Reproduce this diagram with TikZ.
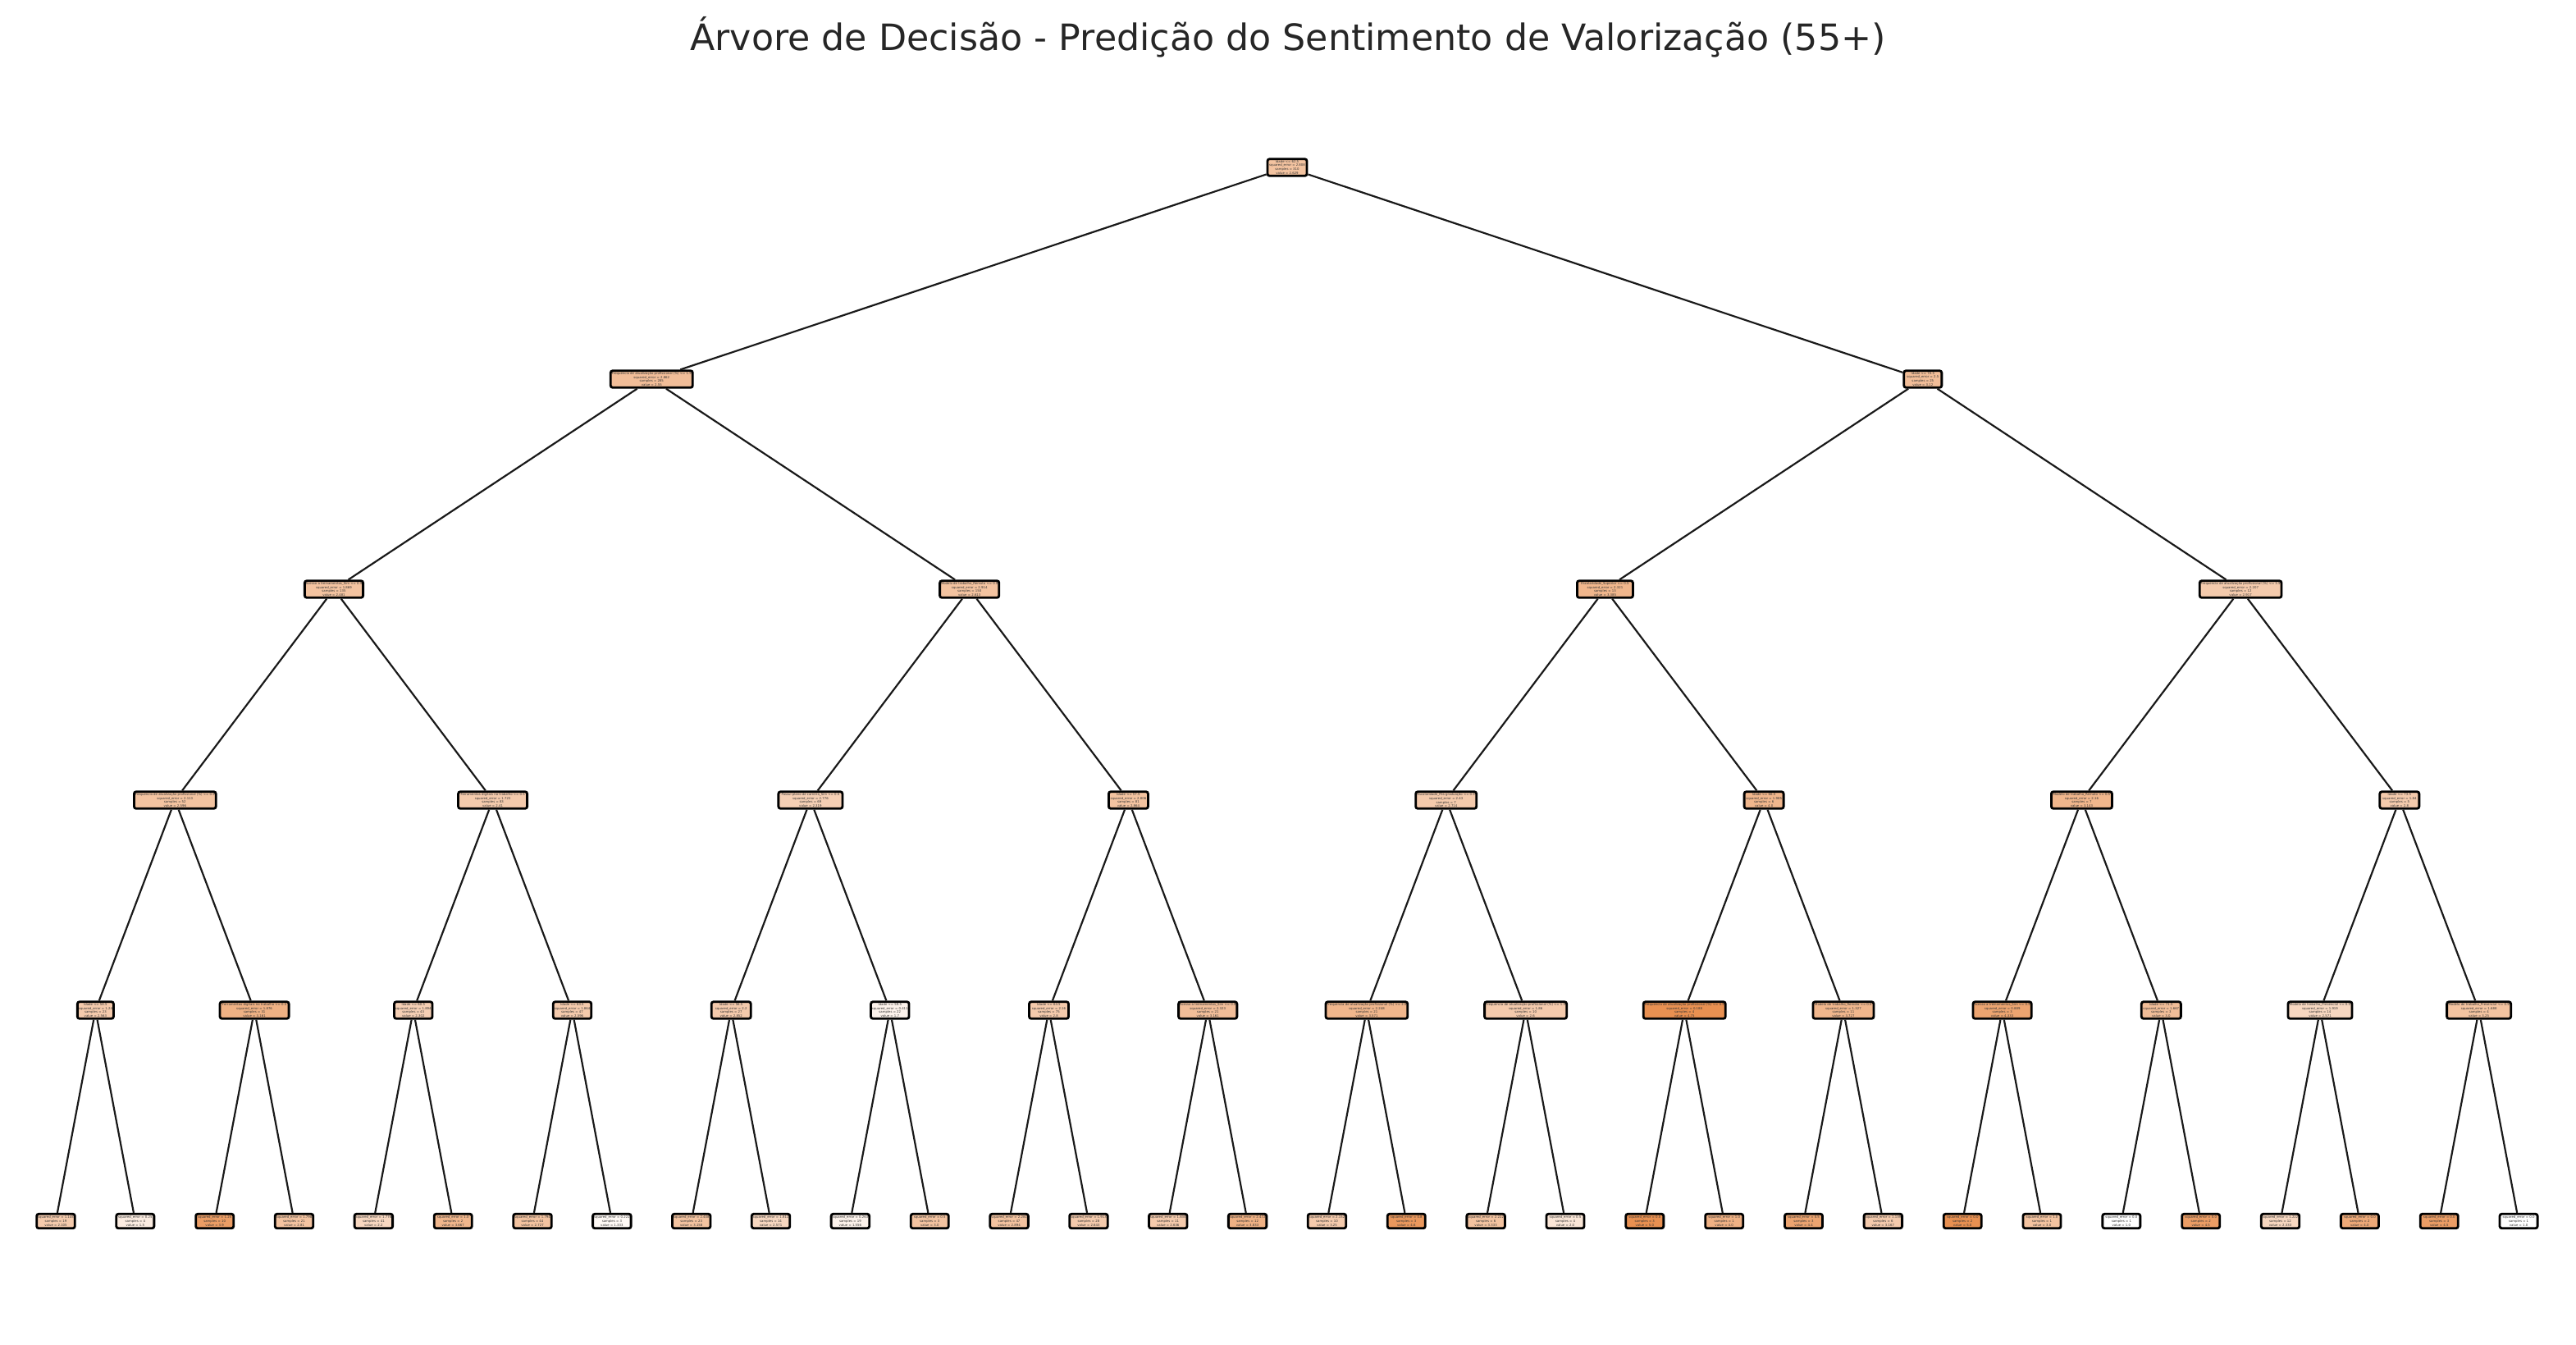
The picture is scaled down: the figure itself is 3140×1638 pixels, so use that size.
\documentclass[tikz,border=0pt]{standalone}
\usepackage{fontspec}
\setmainfont{DejaVu Sans}
\definecolor{tor}{HTML}{E58139}
\definecolor{ttl}{HTML}{262626}
\newcommand\itx[4]{#1\\squared\_error = #2\\samples = #3\\value = #4}
\newcommand\ltx[3]{squared\_error = #1\\samples = #2\\value = #3}
\tikzset{
  tn/.style={draw=black, line width=0.8pt, rounded corners=0.025cm, inner xsep=0.4pt, inner ysep=0.3pt,
    align=center, text=black!80, font=\fontsize{1.1}{1.4}\selectfont, minimum height=0.205cm},
  lf/.style={tn, minimum height=0.175cm},
  edge/.style={draw=black!90, line width=0.62pt}
}
\begin{document}
\begin{tikzpicture}[x=0.01cm, y=-0.01cm]
\useasboundingbox (0,0) rectangle (3140,1638);
\node[font=\fontsize{12.6}{15}\selectfont, text=ttl] (title) at (1570,45) {Árvore de Decisão - Predição do Sentimento de Valorização (55+)};
% level 0
\node[tn, minimum width=0.48cm, fill=tor!48!white] (n0-1) at (1569,204) {\itx{Idade <= 62.5}{2.808}{310}{2.629}};
% level 1
\foreach \x/\w/\p/\t [count=\k] in {
  794.3/1.00/52/{\itx{Frequencia de atualização profissional (\%) <= 1.5}{2.862}{285}{2.55}},
  2343.8/0.46/52/{\itx{Idade <= 70.5}{2.5}{25}{3.12}}}
  {\node[tn, minimum width=\w cm, fill=tor!\p!white] (n1-\k) at (\x,462) {\t};}
% level 2
\foreach \x/\w/\p/\t [count=\k] in {
  407.0/0.70/48/{\itx{Acesso a treinamentos\_Sim <= 0.5}{1.869}{135}{2.481}},
  1181.7/0.68/48/{\itx{Modelo de trabalho\_Remoto <= 0.5}{2.914}{150}{2.613}},
  1956.4/0.68/58/{\itx{Escolaridade\_Superior <= 0.5}{2.321}{13}{3.385}},
  2731.1/0.98/42/{\itx{Frequencia de atualização profissional (\%) <= 3.5}{2.207}{12}{2.917}}}
  {\node[tn, minimum width=\w cm, fill=tor!\p!white] (n2-\k) at (\x,718) {\t};}
% level 3
\foreach \x/\w/\p/\t [count=\k] in {
  213.3/0.98/48/{\itx{Frequencia de atualização profissional (\%) <= 0.5}{2.113}{52}{2.596}},
  600.6/0.84/42/{\itx{Ferramentas digitais no trabalho <= 0.5}{1.723}{83}{2.41}},
  987.9/0.78/38/{\itx{Possui plano de carreira\_Sim <= 0.5}{2.776}{69}{2.319}},
  1375.4/0.48/48/{\itx{Idade <= 57.5}{2.806}{81}{2.864}},
  1762.7/0.74/42/{\itx{Escolaridade\_Pós-graduação <= 0.5}{2.43}{7}{2.714}},
  2150.1/0.48/58/{\itx{Idade <= 66.5}{1.985}{6}{4.0}},
  2537.4/0.74/58/{\itx{Modelo de trabalho\_Remoto <= 0.5}{2.16}{7}{3.143}},
  2924.8/0.48/42/{\itx{Idade <= 73.5}{1.84}{5}{2.8}}}
  {\node[tn, minimum width=\w cm, fill=tor!\p!white] (n3-\k) at (\x,975) {\t};}
% level 4
\foreach \x/\w/\p/\t [count=\k] in {
  116.4/0.44/42/{\itx{Idade <= 58.5}{1.24}{23}{2.563}},
  310.1/0.84/62/{\itx{Ferramentas digitais no trabalho <= 0.5}{1.876}{31}{3.161}},
  503.8/0.46/38/{\itx{Idade <= 60.5}{1.894}{43}{2.302}},
  697.5/0.46/42/{\itx{Idade <= 63.5}{1.864}{47}{2.596}},
  891.2/0.48/42/{\itx{Idade <= 56.5}{2.2}{27}{2.852}},
  1084.8/0.44/10/{\itx{Idade <= 59.5}{0.411}{22}{1.7}},
  1278.5/0.48/42/{\itx{Idade <= 64.5}{2.16}{75}{2.8}},
  1472.2/0.68/52/{\itx{Acesso a treinamentos\_Sim <= 0.5}{2.323}{21}{3.161}},
  1665.9/0.98/58/{\itx{Frequencia de atualização profissional (\%) <= 2.5}{2.248}{21}{3.571}},
  1859.6/1.00/42/{\itx{Frequencia de atualização profissional (\%) <= 1.5}{1.86}{10}{2.6}},
  2053.2/1.00/88/{\itx{Frequencia de atualização profissional (\%) <= 4.5}{0.188}{4}{4.75}},
  2246.9/0.74/58/{\itx{Modelo de trabalho\_Remoto <= 0.5}{1.327}{11}{3.727}},
  2440.6/0.68/72/{\itx{Acesso a treinamentos\_Sim <= 0.5}{0.889}{3}{4.333}},
  2634.3/0.48/52/{\itx{Idade <= 71.5}{1.667}{3}{3.0}},
  2828.0/0.78/32/{\itx{Modelo de trabalho\_Presencial <= 0.5}{1.919}{14}{2.571}},
  3021.6/0.78/48/{\itx{Modelo de trabalho\_Presencial <= 0.5}{1.688}{4}{3.25}}}
  {\node[tn, minimum width=\w cm, fill=tor!\p!white] (n4-\k) at (\x,1231) {\t};}
% level 5 (leaves)
\foreach \p/\t [count=\k] in {
  42/{\ltx{1.145}{19}{2.105}}, 15/{\ltx{0.25}{4}{1.5}}, 78/{\ltx{1.25}{10}{3.9}}, 48/{\ltx{1.798}{21}{2.81}},
  32/{\ltx{1.776}{41}{2.2}}, 58/{\ltx{1.0}{2}{3.667}}, 48/{\ltx{1.794}{44}{2.727}}, 5/{\ltx{0.222}{3}{1.333}},
  48/{\ltx{2.408}{23}{3.158}}, 32/{\ltx{1.811}{14}{2.571}}, 10/{\ltx{0.263}{19}{1.556}}, 48/{\ltx{0.5}{3}{3.0}},
  48/{\ltx{2.281}{47}{2.894}}, 42/{\ltx{1.913}{28}{2.643}}, 42/{\ltx{1.835}{11}{2.636}}, 62/{\ltx{2.472}{12}{3.833}},
  42/{\ltx{2.152}{10}{3.25}}, 82/{\ltx{0.8}{3}{4.6}}, 48/{\ltx{2.222}{6}{3.333}}, 20/{\ltx{0.5}{4}{2.0}},
  88/{\ltx{0.0}{3}{5.0}}, 62/{\ltx{1.0}{1}{4.0}}, 72/{\ltx{0.5}{3}{4.4}}, 42/{\ltx{1.139}{6}{3.167}},
  88/{\ltx{0.0}{2}{5.0}}, 48/{\ltx{1.0}{1}{3.0}}, 0/{\ltx{0.0}{1}{1.0}}, 78/{\ltx{0.0}{2}{4.5}},
  32/{\ltx{1.222}{12}{2.333}}, 68/{\ltx{0.0}{2}{4.0}}, 78/{\ltx{0.0}{3}{4.5}}, 0/{\ltx{0.0}{1}{1.0}}}
  {\pgfmathsetmacro\xx{68+96.84*(\k-1)}
   \node[lf, minimum width=0.46cm, fill=tor!\p!white] (n5-\k) at (\xx,1488) {\t};}
% connectors
\foreach \L/\P/\N in {1/0/2, 2/1/4, 3/2/8, 4/3/16, 5/4/32}
  {\foreach \k in {1,...,\N}
    {\pgfmathtruncatemacro\pk{(\k+1)/2}
     \draw[edge] (n\P-\pk) -- (n\L-\k);}}
\end{tikzpicture}
\end{document}
